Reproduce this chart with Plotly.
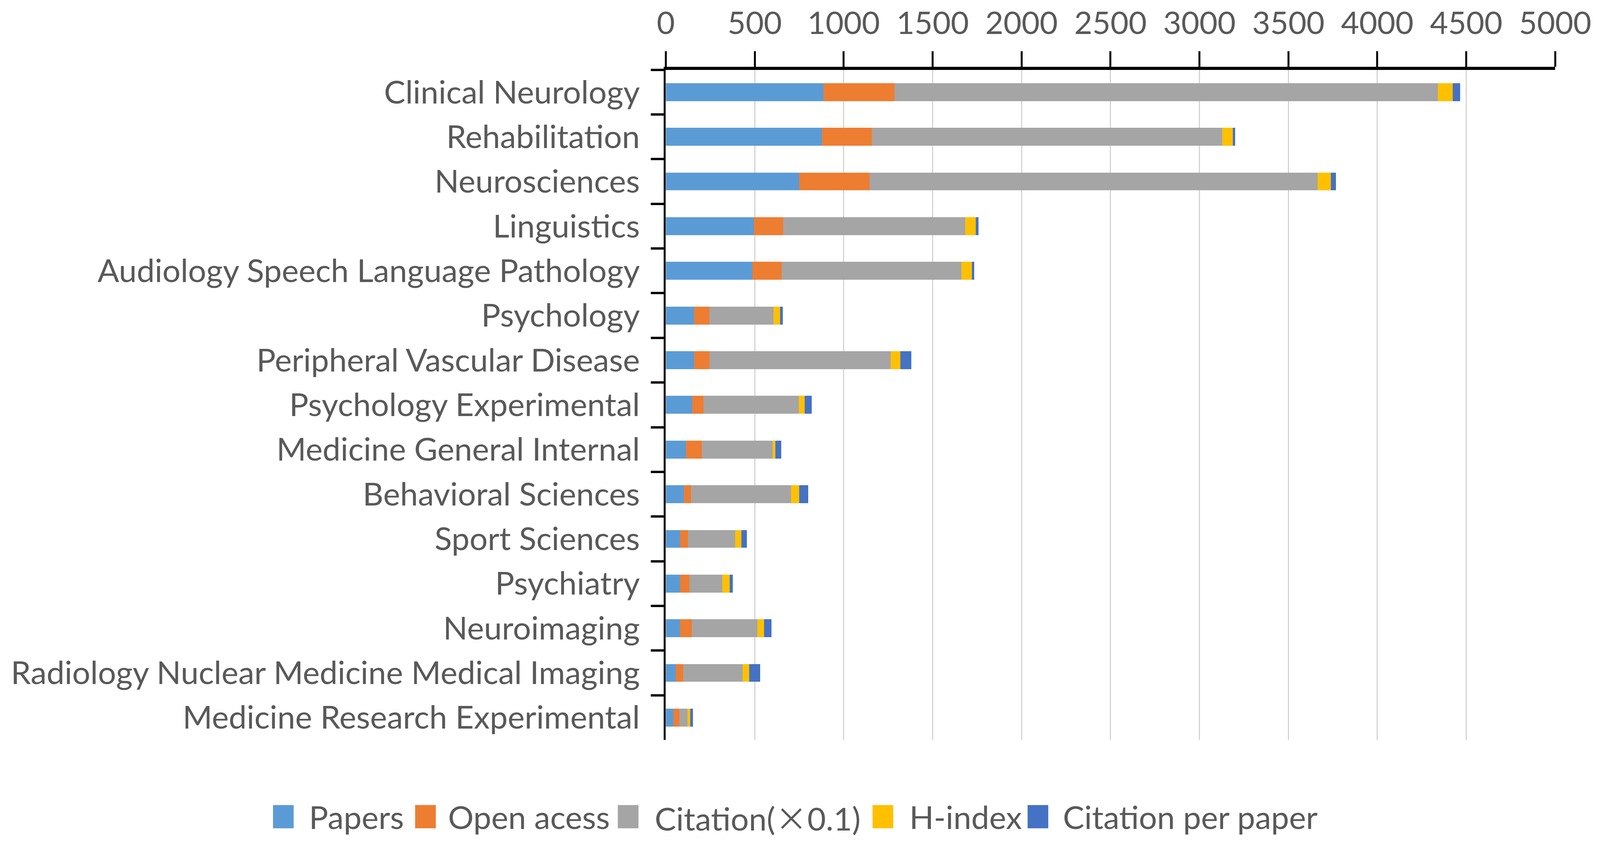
import plotly.graph_objects as go

categories = [
    "Clinical Neurology", "Rehabilitation", "Neurosciences", "Linguistics",
    "Audiology Speech Language Pathology", "Psychology", "Peripheral Vascular Disease",
    "Psychology Experimental", "Medicine General Internal", "Behavioral Sciences",
    "Sport Sciences", "Psychiatry", "Neuroimaging",
    "Radiology Nuclear Medicine Medical Imaging", "Medicine Research Experimental",
]
papers = [886, 877, 749, 496, 487, 159, 159, 148, 113, 102, 81, 80, 80, 57, 42]
open_access = [400, 282, 397, 163, 165, 87, 87, 64, 90, 39, 44, 53, 67, 40, 34]
citation_x01 = [3054, 1969, 2519, 1025, 1009, 360, 1019, 536, 398, 563, 264, 185, 369, 334, 47]
h_index = [85, 60, 74, 59, 60, 36, 54, 33, 16, 47, 37, 42, 37, 37, 14]
citation_per_paper = [40, 12, 29, 15, 14, 16, 61, 40, 32, 49, 29, 16, 41, 62, 15]

series_names = ["Papers", "Open acess", "Citation(\u00d70.1)", "H-index", "Citation per paper"]
legend_labels = ["Papers", "Open acess",
                 "Citation(<span style='font-family:Noto Sans CJK SC'>\u00d7</span>0.1)",
                 "H-index", "Citation per paper"]
series_values = [papers, open_access, citation_x01, h_index, citation_per_paper]
colors = ["#5B9BD5", "#ED7D31", "#A5A5A5", "#FFC000", "#4472C4"]

# reference frame (fractions of the full figure are used so the chart fills the page)
RW, RH = 4317.0, 2163.0
PLOT_L, PLOT_R, PLOT_T, PLOT_B = 1795, 4204, 172, 1900
FONT = "Lato"
TXT = "#595959"

def fx(px):
    return px / RW

def fy(py):
    return 1 - py / RH

fig = go.Figure()
for name, vals, col in zip(series_names, series_values, colors):
    fig.add_trace(go.Bar(y=categories, x=vals, orientation="h", name=name,
                         marker=dict(color=col, line=dict(width=0)), showlegend=False))

# legend drawn with large square swatches like the original
sq_left = [731, 1116, 1665, 2355, 2775]
txt_left = [826, 1203, 1763, 2453, 2868]
yc = 2098
shapes = []
annotations = []
for label, col, sx, tx in zip(legend_labels, colors, sq_left, txt_left):
    shapes.append(dict(type="rect", xref="paper", yref="paper",
                       x0=fx(sx), x1=fx(sx + 56), y0=fy(yc + 30), y1=fy(yc - 30),
                       fillcolor=col, line=dict(width=0)))
    annotations.append(dict(text=label, xref="paper", yref="paper", x=fx(tx), y=fy(yc),
                            xanchor="left", yanchor="middle", showarrow=False,
                            font=dict(family=FONT, size=82, color=TXT)))

fig.update_layout(
    autosize=True, barmode="stack", bargap=0.6,
    margin=dict(l=0, r=0, t=0, b=0, pad=0, autoexpand=False),
    plot_bgcolor="white", paper_bgcolor="white",
    font=dict(family=FONT, size=82, color=TXT),
    showlegend=False, shapes=shapes, annotations=annotations,
    xaxis=dict(side="top", domain=[fx(PLOT_L), fx(PLOT_R)], range=[0, 5000], tick0=0, dtick=500,
               automargin=False, showgrid=True, gridcolor="#D4D4D4", gridwidth=3, zeroline=False,
               ticks="outside", ticklen=40, tickwidth=5, tickcolor="black",
               showline=True, linecolor="black", linewidth=8,
               tickfont=dict(family=FONT, size=80, color=TXT), ticklabelstandoff=12),
    yaxis=dict(type="category", domain=[fy(PLOT_B), fy(PLOT_T)],
               categoryorder="array", categoryarray=categories,
               autorange="reversed", showgrid=False, zeroline=False, automargin=False,
               showline=True, linecolor="black", linewidth=5,
               ticks="outside", tickson="boundaries", ticklen=33, tickwidth=6, tickcolor="black",
               tickfont=dict(family=FONT, size=82, color=TXT), ticklabelstandoff=45),
)

fig.write_html("out.html", default_width="calc(100vw - 16px)",
               default_height="calc(100vh - 16px)")
